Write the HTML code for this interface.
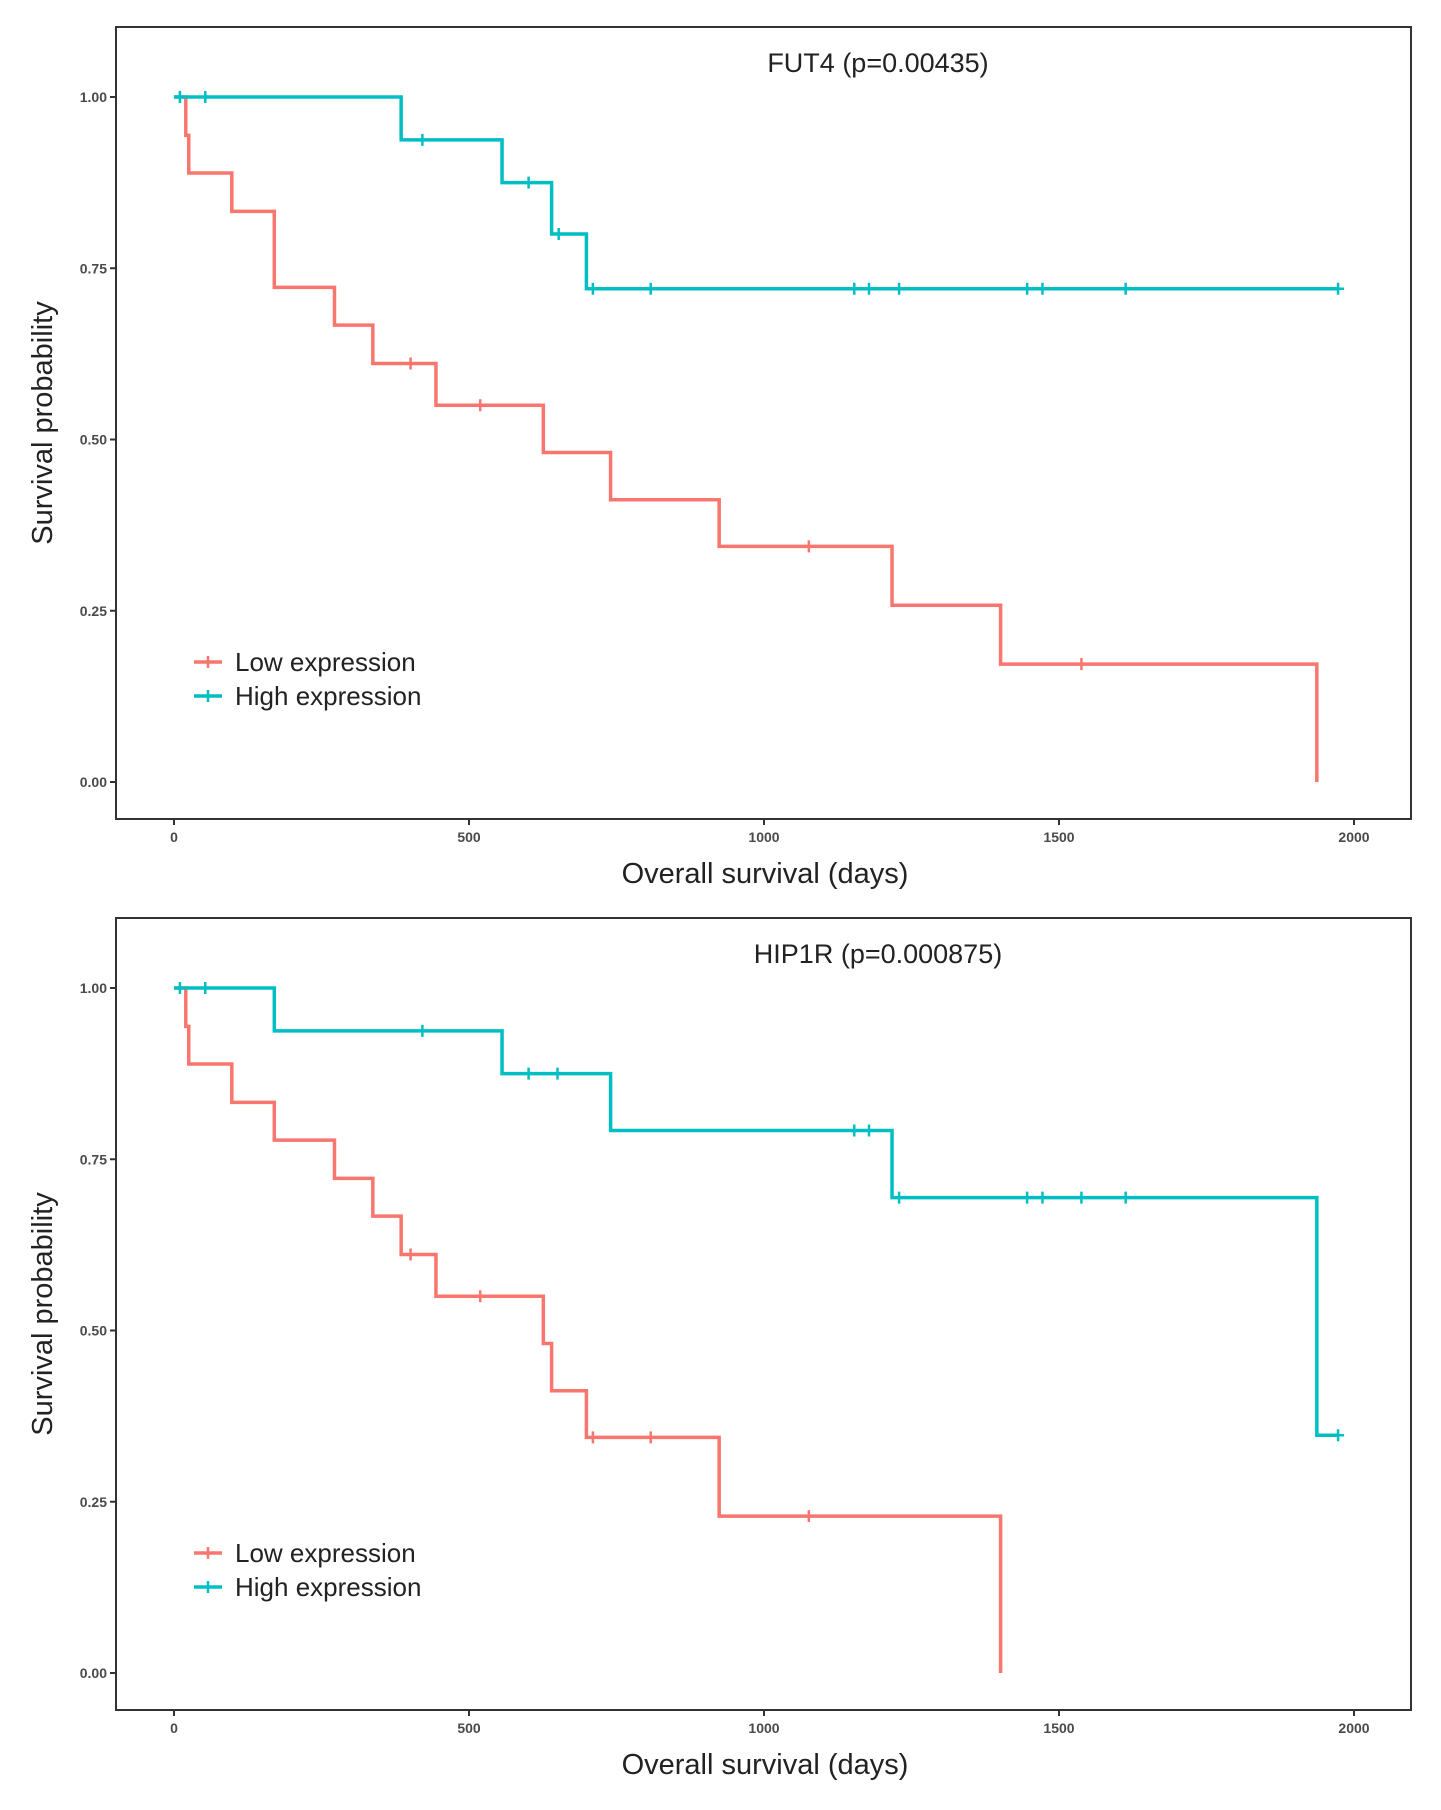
<!DOCTYPE html>
<html><head><meta charset="utf-8"><style>
html,body{margin:0;padding:0;background:#fff}
svg{display:block}
text{font-family:"Liberation Sans",sans-serif}
</style></head><body>
<svg id="c" width="1441" height="1810" viewBox="0 0 1441 1810"></svg>
<script>
const tickDays=[0,500,1000,1500,2000];
const tickProbs=[0,0.25,0.5,0.75,1];
const titles=["FUT4 (p=0.00435)","HIP1R (p=0.000875)"];
// FUT4
const fLowT=[0,20,25,98,170,272,337,444,626,740,924,1217,1401,1937];
const fLowS=[1,0.944,0.889,0.833,0.722,0.667,0.611,0.55,0.481,0.412,0.344,0.258,0.172,0];
const fLowC=[401,519,1076,1538];
const fHighT=[0,385,556,640,699];
const fHighS=[1,0.9375,0.875,0.80,0.72];
const fHighC=[10,53,421,601,652,710,808,1153,1178,1229,1446,1472,1613,1973];
const fEnd=[1937,1975];
// HIP1R
const hLowT=[0,20,25,98,170,272,337,385,444,626,640,699,924,1401];
const hLowS=[1,0.944,0.889,0.833,0.778,0.722,0.667,0.611,0.55,0.481,0.412,0.344,0.229,0];
const hLowC=[401,519,710,808,1076];
const hHighT=[0,170,556,740,1217,1937];
const hHighS=[1,0.9375,0.875,0.792,0.694,0.347];
const hHighC=[10,53,421,601,650,1153,1178,1229,1446,1472,1538,1613,1973];
const hEnd=[1401,1975];

const NS="http://www.w3.org/2000/svg";
const svg=document.getElementById('c');
function mk(tag,attrs,parent){const e=document.createElementNS(NS,tag);for(const k in attrs)e.setAttribute(k,attrs[k]);(parent||svg).appendChild(e);return e;}
const RED="#F8766D",TEAL="#00BFC4";
function panel(off,title,series,ends,idx){
  const g=mk('g',{});
  
  
  const X=d=>174+d*(1354-174)/2000;
  const Y=p=>off+782-p*(782-97);
  const fr=mk('rect',{x:116,y:off+27,width:1295,height:792,fill:'none',stroke:'#333','stroke-width':2},g);
  
  tickProbs.forEach(p=>{
    mk('line',{x1:110,x2:116,y1:Y(p),y2:Y(p),stroke:'#333','stroke-width':2},g);
    const t=mk('text',{x:107,y:Y(p)+5,'text-anchor':'end','font-size':14,'font-weight':'bold',fill:'#4a4a4a'},g);
    t.textContent=p.toFixed(2);
    
  });
  tickDays.forEach(d=>{
    mk('line',{x1:X(d),x2:X(d),y1:off+819,y2:off+825,stroke:'#333','stroke-width':2},g);
    const t=mk('text',{x:X(d),y:off+842,'text-anchor':'middle','font-size':14,'font-weight':'bold',fill:'#4a4a4a'},g);
    t.textContent=d;
    
  });
  const tt=mk('text',{x:878,y:off+72,'text-anchor':'middle','font-size':27,fill:'#222'},g);
  tt.textContent=title;
  
  const xt=mk('text',{x:765,y:off+883,'text-anchor':'middle','font-size':29,fill:'#222'},g);
  xt.textContent='Overall survival (days)';
  
  const yt=mk('text',{x:0,y:0,'text-anchor':'middle','font-size':29,fill:'#222',transform:`translate(52,${off+423}) rotate(-90)`},g);
  yt.textContent='Survival probability';
  
  series.forEach((s,si)=>{
    const [T,S,C,col,name]=s;
    const end=ends[si];
    let d=`M${X(T[0])},${Y(S[0])}`;
    for(let i=1;i<T.length;i++){d+=` H${X(T[i])} V${Y(S[i])}`;}
    if(end>T[T.length-1]) d+=` H${X(end)}`;
    const p=mk('path',{d:d,fill:'none',stroke:col,'stroke-width':3.5},g);
    
    C.forEach(c=>{
      let v=S[0];for(let i=0;i<T.length;i++)if(T[i]<=c)v=S[i];
      const cx=X(c),cy=Y(v);
      const m=mk('path',{d:`M${cx-6},${cy} H${cx+6} M${cx},${cy-6} V${cy+6}`,stroke:col,'stroke-width':2.5},g);
      
    });
  });
  [["Low expression",RED,662],["High expression",TEAL,696]].forEach(([lab,col,y])=>{
    const le=mk('g',{},g);
    
    mk('line',{x1:194,x2:222,y1:off+y,y2:off+y,stroke:col,'stroke-width':3.5},le);
    mk('path',{d:`M208,${off+y-6} V${off+y+6}`,stroke:col,'stroke-width':2.5},le);
    const t=mk('text',{x:235,y:off+y+9,'font-size':26,fill:'#222'},le);
    t.textContent=lab;
  });
}
panel(0,titles[0],[[fLowT,fLowS,fLowC,RED,'low'],[fHighT,fHighS,fHighC,TEAL,'high']],[fEnd[0],fEnd[1]],0);
panel(891,titles[1],[[hLowT,hLowS,hLowC,RED,'low'],[hHighT,hHighS,hHighC,TEAL,'high']],[hEnd[0],hEnd[1]],1);
</script>
</body></html>
